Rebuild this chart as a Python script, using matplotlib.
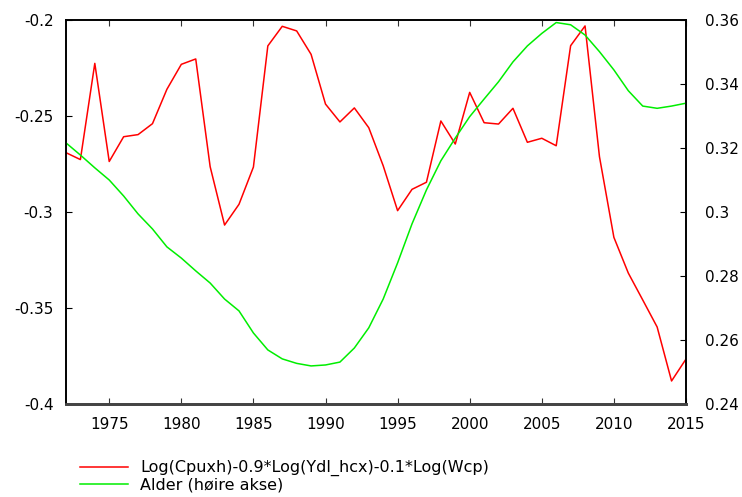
import matplotlib
matplotlib.use("Agg")
import matplotlib.pyplot as plt
import numpy as np

plt.rcParams['font.family'] = ['DejaVu Sans']

# data
years = np.arange(1972, 2016)

consumption_gap = [
    -0.2691, -0.2727, -0.2226, -0.2737, -0.2608, -0.2597, -0.2540, -0.2361,
    -0.2231, -0.2203, -0.2764, -0.3068, -0.2960, -0.2766, -0.2135, -0.2033,
    -0.2057, -0.2179, -0.2438, -0.2531, -0.2458, -0.2561, -0.2759, -0.2993,
    -0.2882, -0.2845, -0.2526, -0.2646, -0.2377, -0.2535, -0.2542, -0.2460,
    -0.2637, -0.2616, -0.2655, -0.2134, -0.2031, -0.2712, -0.3132, -0.3318,
    -0.3458, -0.3599, -0.3880, -0.3766,
]

age_share = [
    0.3216, 0.3178, 0.3138, 0.3100, 0.3050, 0.2994, 0.2947, 0.2891,
    0.2856, 0.2816, 0.2778, 0.2728, 0.2691, 0.2622, 0.2569, 0.2541,
    0.2527, 0.2519, 0.2522, 0.2531, 0.2575, 0.2638, 0.2728, 0.2841,
    0.2963, 0.3069, 0.3160, 0.3231, 0.3298, 0.3353, 0.3407, 0.3469,
    0.3519, 0.3558, 0.3592, 0.3585, 0.3553, 0.3501, 0.3444, 0.3379,
    0.3331, 0.3324, 0.3331, 0.3340,
]

label_red = "Log(Cpuxh)-0.9*Log(Ydl_hcx)-0.1*Log(Wcp)"
label_green = "Alder (høire akse)"

fig = plt.figure(figsize=(7.42, 4.97), dpi=100)
ax = fig.add_axes([0.0889, 0.1871, 0.8356, 0.7727])
ax2 = ax.twinx()

l1, = ax.plot(years, consumption_gap, color='#ff0000', lw=1.1)
l2, = ax2.plot(years, age_share, color='#00ee00', lw=1.1)

ax.set_xlim(1972, 2015)
ax.set_ylim(-0.4, -0.2)
ax2.set_ylim(0.24, 0.36)

ax.set_xticks(np.arange(1975, 2016, 5))
ax.set_yticks([-0.4, -0.35, -0.3, -0.25, -0.2])
ax.set_yticklabels(['-0.4', '-0.35', '-0.3', '-0.25', '-0.2'])
ax2.set_yticks([0.24, 0.26, 0.28, 0.3, 0.32, 0.34, 0.36])
ax2.set_yticklabels(['0.24', '0.26', '0.28', '0.3', '0.32', '0.34', '0.36'])

ax.tick_params(axis='x', direction='in', top=True, length=4, width=0.8,
               labelsize=11, pad=9, colors='#333333', labelcolor='black')
ax.tick_params(axis='y', direction='in', length=4, width=0.8,
               labelsize=11, pad=9)
ax2.tick_params(axis='y', direction='in', length=4, width=0.8,
                labelsize=11, pad=14)

for a in (ax, ax2):
    a.spines['left'].set_linewidth(1.2)
    a.spines['right'].set_linewidth(1.2)
    a.spines['top'].set_linewidth(1.2)
    a.spines['bottom'].set_linewidth(2.0)
    a.spines['bottom'].set_color('#444444')

fig.legend([l1, l2], [label_red, label_green], loc='upper left',
           bbox_to_anchor=(0.108, 0.074), frameon=False, fontsize=11.5,
           handlelength=3.0, handletextpad=0.75, labelspacing=0.05,
           borderaxespad=0, borderpad=0)

fig.savefig('out.png', dpi=100)
